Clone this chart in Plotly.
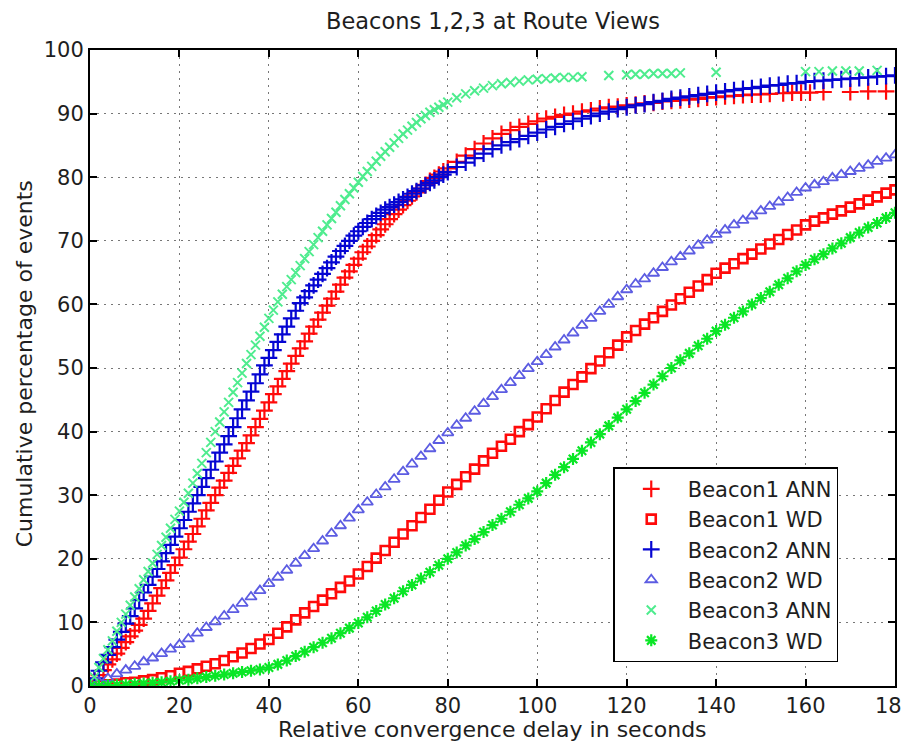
import plotly.graph_objects as go

# ---------------- data ----------------
# delay grid in seconds
delay_1s = list(range(0, 81))
delay_2s = list(range(0, 181, 2))

# Beacon1 ANN
b1_ann_x = delay_1s + list(range(82, 151, 2)) + [152, 155, 157, 159, 161, 164, 170, 174, 178]
b1_ann_y = [0, 0.85, 1.7, 2.5, 3.4, 4.2, 5.1, 6.0, 6.9, 7.8, 8.7,
            9.6, 10.6, 11.8, 13.0, 14.2, 15.4, 16.6, 17.8, 19.0, 20.2,
            21.5, 22.7, 23.9, 25.1, 26.3, 27.6, 28.8, 30.0, 31.2, 32.3,
            33.5, 34.6, 35.8, 37.0, 38.2, 39.4, 40.7, 42.0, 43.3, 44.6,
            45.9, 47.1, 48.3, 49.5, 50.7, 51.9, 53.1, 54.2, 55.4, 56.5,
            57.6, 58.7, 59.8, 60.9, 62.0, 63.1, 64.2, 65.2, 66.2, 67.2,
            68.2, 69.1, 70.0, 70.9, 71.8, 72.6, 73.4, 74.2, 74.9, 75.6,
            76.3, 77.0, 77.6, 78.2, 78.8, 79.4, 79.9, 80.4, 80.9, 81.4,
            82.4, 83.4, 84.4, 85.3, 86.1, 86.8, 87.4, 87.9, 88.4, 88.8,
            89.2, 89.5, 89.8, 90.0, 90.3, 90.5, 90.8, 91.0, 91.1, 91.3,
            91.4, 91.6, 91.7, 91.9, 92.0, 92.1, 92.2, 92.3, 92.5, 92.6,
            92.7, 92.8, 92.9, 93.0, 93.0,
            93.1, 93.2, 93.3, 93.3, 93.3, 93.4, 93.4, 93.5, 93.5]

# Beacon1 WD
b1_wd_x = delay_2s
b1_wd_y = [0, 0.1, 0.2, 0.3, 0.5, 0.6, 0.8, 1.0, 1.3, 1.6, 2.0,
           2.3, 2.7, 3.1, 3.5, 4.0, 4.6, 5.2, 5.9, 6.6, 7.3,
           8.3, 9.3, 10.4, 11.5, 12.5, 13.5, 14.5, 15.5, 16.5, 17.6,
           18.8, 20.1, 21.3, 22.6, 23.9, 25.2, 26.5, 27.8, 29.2, 30.5,
           31.7, 32.9, 34.1, 35.4, 36.6, 37.7, 38.8, 40.0, 41.1, 42.3,
           43.6, 44.9, 46.2, 47.4, 48.6, 49.9, 51.1, 52.4, 53.6, 54.9,
           55.9, 56.9, 57.9, 58.9, 59.9, 60.9, 61.9, 62.9, 63.9, 64.9,
           65.7, 66.4, 67.2, 67.9, 68.7, 69.5, 70.2, 71.0, 71.7, 72.5,
           73.1, 73.6, 74.2, 74.7, 75.3, 75.8, 76.4, 76.9, 77.5, 78.0]

# Beacon2 ANN
b2_ann_x = delay_1s + list(range(82, 181, 2))
b2_ann_y = [0, 1.2, 2.4, 3.7, 4.9, 6.1, 7.3, 8.5, 9.8, 11.0, 12.2,
            13.5, 14.7, 15.9, 17.2, 18.4, 19.6, 20.9, 22.2, 23.5, 24.8,
            26.1, 27.4, 28.7, 30.0, 31.3, 32.7, 34.0, 35.3, 36.7, 38.0,
            39.3, 40.7, 42.1, 43.5, 44.9, 46.3, 47.6, 49.0, 50.4, 51.6,
            52.8, 54.1, 55.3, 56.5, 57.8, 59.0, 60.2, 61.1, 62.1, 63.0,
            63.9, 64.8, 65.7, 66.6, 67.5, 68.4, 69.2, 70.0, 70.8, 71.5,
            72.2, 72.8, 73.4, 73.9, 74.4, 74.9, 75.3, 75.7, 76.1, 76.5,
            76.9, 77.4, 77.8, 78.2, 78.7, 79.1, 79.5, 80.0, 80.4, 80.8,
            81.6, 82.3, 83.0, 83.7, 84.4, 85.0, 85.5, 86.0, 86.5, 87.0,
            87.5, 87.9, 88.4, 88.8, 89.2, 89.6, 90.0, 90.3, 90.7, 91.0,
            91.3, 91.5, 91.8, 92.0, 92.3, 92.5, 92.7, 92.9, 93.1, 93.3,
            93.5, 93.7, 93.9, 94.0, 94.2, 94.4, 94.5, 94.7, 94.8, 95.0,
            95.1, 95.2, 95.3, 95.4, 95.5, 95.6, 95.7, 95.8, 95.9, 96.0]

# Beacon2 WD
b2_wd_x = delay_2s
b2_wd_y = [0, 0.6, 1.2, 1.9, 2.5, 3.1, 3.8, 4.4, 5.1, 5.8, 6.5,
           7.4, 8.3, 9.2, 10.1, 11.0, 12.0, 13.0, 14.0, 15.0, 16.1,
           17.1, 18.2, 19.3, 20.5, 21.6, 22.8, 24.0, 25.2, 26.4, 27.7,
           28.9, 30.1, 31.3, 32.5, 33.7, 34.9, 36.1, 37.3, 38.6, 39.8,
           41.0, 42.1, 43.2, 44.4, 45.5, 46.6, 47.7, 48.8, 49.9, 51.0,
           52.1, 53.3, 54.4, 55.5, 56.7, 57.8, 58.9, 60.0, 61.2, 62.3,
           63.2, 64.0, 64.9, 65.8, 66.7, 67.5, 68.4, 69.3, 70.1, 71.0,
           71.7, 72.5, 73.2, 73.9, 74.7, 75.4, 76.1, 76.8, 77.6, 78.3,
           78.8, 79.3, 79.9, 80.4, 80.9, 81.4, 81.9, 82.5, 83.0, 83.5]

# Beacon3 ANN (dense part, then sparse tail)
b3_ann_x = delay_1s + list(range(82, 111, 2))
b3_ann_y = [0, 1.4, 2.9, 4.3, 5.7, 7.1, 8.6, 10.0, 11.3, 12.7, 14.0,
            15.3, 16.7, 18.0, 19.3, 20.7, 22.1, 23.4, 24.8, 26.2, 27.5,
            28.9, 30.3, 31.9, 33.4, 35.0, 36.7, 38.3, 40.0, 41.5, 43.1,
            44.6, 46.2, 47.7, 49.2, 50.7, 52.1, 53.6, 55.0, 56.4, 57.8,
            59.1, 60.4, 61.6, 62.8, 63.9, 65.0, 66.1, 67.2, 68.3, 69.4,
            70.5, 71.5, 72.5, 73.5, 74.5, 75.5, 76.5, 77.4, 78.3, 79.2,
            80.1, 80.9, 81.7, 82.5, 83.3, 84.0, 84.7, 85.4, 86.1, 86.8,
            87.4, 88.0, 88.6, 89.2, 89.7, 90.2, 90.6, 91.0, 91.4, 91.8,
            92.5, 93.1, 93.6, 94.0, 94.4, 94.7, 94.9, 95.1, 95.3, 95.4,
            95.5, 95.6, 95.7, 95.7, 95.8]
b3_ann_tail_x = [116, 120, 122, 124, 126, 128, 130, 132, 140, 160, 163, 166, 169, 172, 176]
b3_ann_tail_y = [96.0, 96.1, 96.2, 96.2, 96.3, 96.3, 96.3, 96.4, 96.5, 96.6, 96.6, 96.7, 96.7, 96.7, 96.8]

# Beacon3 WD
b3_wd_x = delay_2s
b3_wd_y = [0, 0.05, 0.1, 0.15, 0.2, 0.3, 0.4, 0.5, 0.6, 0.75, 0.9,
           1.0, 1.2, 1.4, 1.6, 1.8, 2.0, 2.2, 2.4, 2.6, 2.9,
           3.4, 4.0, 4.7, 5.4, 6.1, 6.8, 7.5, 8.3, 9.1, 9.9,
           10.8, 11.8, 12.8, 13.8, 14.9, 15.9, 16.9, 17.9, 19.0, 20.0,
           21.0, 22.1, 23.1, 24.2, 25.3, 26.3, 27.4, 28.5, 29.5, 30.6,
           31.9, 33.2, 34.4, 35.7, 37.0, 38.3, 39.6, 40.9, 42.2, 43.5,
           44.8, 46.1, 47.4, 48.7, 50.0, 51.2, 52.3, 53.5, 54.6, 55.8,
           56.8, 57.9, 58.9, 60.0, 61.0, 62.0, 63.1, 64.1, 65.2, 66.2,
           67.1, 67.9, 68.8, 69.6, 70.5, 71.3, 72.1, 72.8, 73.6, 74.4]

x_ticks = [0, 20, 40, 60, 80, 100, 120, 140, 160, 180]
y_ticks = [0, 10, 20, 30, 40, 50, 60, 70, 80, 90, 100]

title_text = "Beacons 1,2,3 at Route Views"
x_title = "Relative convergence delay in seconds"
y_title = "Cumulative percentage of events"

# ---------------- styling ----------------
FONT = "DejaVu Sans"
TXT = "#1e1e1e"
RED = "#ff0a0a"
BLUE = "#0505d2"
TRI = "#5c5ce2"
LGREEN = "#4eec8e"
GREEN = "#0ae626"


def mk(symbol, color, size, width):
    return dict(symbol=symbol, size=size, color=color,
                line=dict(color=color, width=width))


fig = go.Figure()
fig.add_trace(go.Scatter(x=b1_ann_x, y=b1_ann_y, mode="markers", name="Beacon1 ANN",
                         marker=mk("cross-thin-open", RED, 12, 2.2)))
fig.add_trace(go.Scatter(x=b1_wd_x, y=b1_wd_y, mode="markers", name="Beacon1 WD",
                         marker=mk("square-open", RED, 9, 2.6)))
fig.add_trace(go.Scatter(x=b2_ann_x, y=b2_ann_y, mode="markers", name="Beacon2 ANN",
                         marker=mk("cross-thin-open", BLUE, 12, 2.2)))
fig.add_trace(go.Scatter(x=b2_wd_x, y=b2_wd_y, mode="markers", name="Beacon2 WD",
                         marker=mk("triangle-up-open", TRI, 10, 1.8)))
fig.add_trace(go.Scatter(x=b3_ann_x, y=b3_ann_y, mode="markers", name="Beacon3 ANN",
                         legendgroup="b3ann",
                         marker=mk("x-thin-open", LGREEN, 9, 2.0)))
fig.add_trace(go.Scatter(x=b3_ann_tail_x, y=b3_ann_tail_y, mode="markers", name="Beacon3 ANN",
                         legendgroup="b3ann", showlegend=False,
                         marker=mk("x-thin-open", LGREEN, 9, 2.0)))
fig.add_trace(go.Scatter(x=b3_wd_x, y=b3_wd_y, mode="markers", name="Beacon3 WD",
                         marker=mk("asterisk-open", GREEN, 10, 2.2)))

axis_common = dict(
    showline=True, linecolor="black", linewidth=2, mirror="ticks",
    ticks="inside", ticklen=7, tickwidth=1.5, tickcolor="black",
    showgrid=True, gridcolor="#777777", gridwidth=1, griddash="2px,5px",
    zeroline=False, ticklabeloverflow="allow", automargin=False,
    tickfont=dict(family=FONT, size=21, color=TXT),
)

fig.update_xaxes(range=[0, 180], tickmode="array", tickvals=x_ticks,
                 ticktext=[str(v) for v in x_ticks], **axis_common)
fig.update_yaxes(range=[0, 100], tickmode="array", tickvals=y_ticks,
                 ticktext=[str(v) for v in y_ticks], **axis_common)

fig.update_layout(
    width=902, height=747,
    margin=dict(l=90, r=7, t=50, b=61, pad=0, autoexpand=False),
    paper_bgcolor="white", plot_bgcolor="white",
    font=dict(family=FONT, color=TXT),
    showlegend=True,
    legend=dict(
        x=0.65, y=0.344, xanchor="left", yanchor="top",
        bgcolor="white", bordercolor="black", borderwidth=1.5,
        font=dict(family=FONT, size=21, color=TXT),
        itemwidth=63, tracegroupgap=0,
    ),
    annotations=[
        dict(text=title_text, xref="paper", yref="paper", x=0.5, y=1.045,
             xanchor="center", yanchor="middle", showarrow=False,
             font=dict(family=FONT, size=22.5, color=TXT)),
        dict(text=x_title, xref="paper", yref="paper", x=0.5, y=-0.068,
             xanchor="center", yanchor="middle", showarrow=False,
             font=dict(family=FONT, size=22, color=TXT)),
        dict(text=y_title, xref="paper", yref="paper", x=-0.081, y=0.507,
             xanchor="center", yanchor="middle", showarrow=False, textangle=-90,
             font=dict(family=FONT, size=22, color=TXT)),
    ],
)

fig.write_html("out.html")
